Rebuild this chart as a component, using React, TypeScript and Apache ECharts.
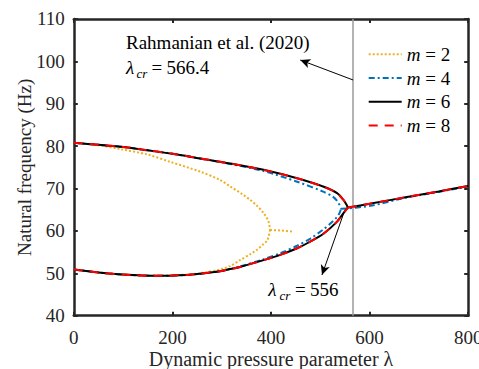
import React, { useEffect, useRef } from "react";
import * as echarts from "echarts";

// ---- data (lambda, natural frequency in Hz) ----
const xTicks = [0, 200, 400, 600, 800];
const yTicks = [40, 50, 60, 70, 80, 90, 100, 110];

// m = 6 (solid black)
const m6Upper: number[][] = [
  [0, 80.8], [50, 80.3], [100, 79.8], [150, 79.0], [200, 78.2], [256, 77.1],
  [317, 75.9], [385, 74.4], [453, 72.4], [507, 70.4], [534, 68.9], [547, 67.3],
  [553, 66.2], [556, 65.5],
];
const m6Lower: number[][] = [
  [0, 50.9], [50, 50.2], [100, 49.7], [168, 49.4], [229, 49.6], [256, 49.9],
  [297, 50.5], [317, 51.0], [337, 51.5], [385, 53.1], [420, 54.4], [453, 55.9],
  [480, 57.5], [507, 59.4], [534, 62.2], [547, 64.2], [556, 65.5],
];
const m6Post: number[][] = [
  [556, 65.5], [600, 66.4], [676, 68.0], [740, 69.3], [800, 70.6],
];

// m = 8 (red dashed) lies on top of m = 6
const m8Upper: number[][] = m6Upper;
const m8Lower: number[][] = m6Lower;
const m8Post: number[][] = m6Post;

// m = 4 (blue dash-dot)
const m4Upper: number[][] = [
  [0, 80.8], [50, 80.3], [100, 79.8], [150, 79.0], [200, 78.2], [256, 77.1],
  [317, 75.8], [385, 74.1], [453, 71.6], [507, 69.2], [525, 68.1], [534, 67.1],
  [539, 66.1], [542, 65.2],
];
const m4Lower: number[][] = [
  [0, 50.9], [50, 50.2], [100, 49.7], [168, 49.4], [229, 49.6], [256, 49.9],
  [297, 50.5], [317, 51.0], [337, 51.6], [385, 53.3], [420, 54.8], [453, 56.5],
  [480, 58.2], [507, 60.4], [525, 62.2], [534, 63.3], [539, 64.2], [542, 65.2],
];
const m4Post: number[][] = [
  [542, 65.2], [601, 65.9], [676, 67.9], [740, 69.2], [800, 70.5],
];

// m = 2 (orange dotted)
const m2Upper: number[][] = [
  [0, 80.8], [50, 80.2], [94, 79.3], [150, 78.0], [195, 76.3], [256, 74.0],
  [297, 72.0], [317, 70.5], [340, 68.8], [358, 67.3], [371, 66.0], [385, 64.2],
  [395, 62.2], [398, 60.2],
];
const m2Lower: number[][] = [
  [0, 50.9], [50, 50.2], [100, 49.7], [168, 49.4], [229, 49.7], [256, 50.0],
  [297, 50.9], [317, 51.7], [337, 53.1], [358, 54.5], [371, 55.5], [385, 56.9],
  [393, 57.9], [398, 60.2],
];
const m2Post: number[][] = [[398, 60.2], [420, 60.1], [446, 59.8]];

const lambdaRef = 566.4;
const arrowRef = [[566.4, 95.6], [459.3, 100.3]];
const arrowCr = [[550, 65.0], [503.4, 49.6]];

const FONT = "'Liberation Serif', 'Times New Roman', 'DejaVu Serif', serif";
const AXIS = "#262626";

export default function App() {
  const ref = useRef<HTMLDivElement>(null);
  useEffect(() => {
    if (!ref.current) return;
    const chart = echarts.init(ref.current, undefined, { renderer: "svg" });

    const mk = (name: string, data: number[][], color: string, type: any, z: number) => ({
      name,
      type: "line",
      data,
      showSymbol: false,
      symbol: "none",
      smooth: 0.3,
      z,
      lineStyle: { color, width: 2, type, cap: "butt" },
      itemStyle: { color },
    });

    const orange = "#EDB120";
    const blue = "#0072BD";
    const black = "#000000";
    const red = "#FF0000";
    const dot = [2, 2];
    const dashDot = [6, 3, 2, 3];
    const dash = [9, 7];

    const series: any[] = [
      mk("m = 2", m2Upper, orange, dot, 2),
      mk("m = 2", m2Lower, orange, dot, 2),
      mk("m = 2", m2Post, orange, dot, 2),
      mk("m = 4", m4Upper, blue, dashDot, 3),
      mk("m = 4", m4Lower, blue, dashDot, 3),
      mk("m = 4", m4Post, blue, dashDot, 3),
      mk("m = 6", m6Upper, black, "solid", 4),
      mk("m = 6", m6Lower, black, "solid", 4),
      mk("m = 6", m6Post, black, "solid", 4),
      mk("m = 8", m8Upper, red, dash, 5),
      mk("m = 8", m8Lower, red, dash, 5),
      mk("m = 8", m8Post, red, dash, 5),
      {
        name: "ref",
        type: "line",
        data: [],
        z: 1,
        markLine: {
          silent: true,
          symbol: ["none", "none"],
          label: { show: false },
          lineStyle: { color: "#9a9a9a", width: 1.5, type: "solid" },
          data: [{ xAxis: lambdaRef }],
        },
      },
      {
        name: "arrows",
        type: "line",
        data: [],
        z: 6,
        markLine: {
          silent: true,
          symbol: ["none", "arrow"],
          symbolSize: [7, 10],
          label: { show: false },
          lineStyle: { color: "#000", width: 1, type: "solid" },
          data: [
            [{ coord: arrowRef[0] }, { coord: arrowRef[1] }],
            [{ coord: arrowCr[0] }, { coord: arrowCr[1] }],
          ],
        },
      },
    ];

    const baseAxis = {
      type: "value",
      axisLine: { show: true, onZero: false, lineStyle: { color: AXIS, width: 2.5 } },
      axisTick: { show: true, inside: true, length: 4, lineStyle: { color: AXIS, width: 2 } },
      splitLine: { show: false },
    };

    const txt = (text: string, x: number, y: number, size = 19, italic = false) => ({
      type: "text",
      x,
      y,
      silent: true,
      style: {
        text,
        fill: "#000",
        fontFamily: FONT,
        fontSize: size,
        fontStyle: italic ? "italic" : "normal",
        verticalAlign: "middle",
        align: "left",
      },
    });

    chart.setOption({
      animation: false,
      backgroundColor: "#ffffff",
      textStyle: { fontFamily: FONT },
      grid: {
        left: 73.8,
        right: 10.8,
        top: 18.9,
        bottom: 53.3,
        containLabel: false,
        outerBoundsMode: "none",
      },
      xAxis: [
        {
          ...baseAxis,
          position: "bottom",
          min: xTicks[0],
          max: xTicks[xTicks.length - 1],
          interval: 200,
          axisLabel: { color: AXIS, fontFamily: FONT, fontSize: 19, margin: 12 },
          name: "Dynamic pressure parameter λ",
          nameLocation: "middle",
          nameGap: 33,
          nameMoveOverlap: false,
          nameTextStyle: { color: AXIS, fontFamily: FONT, fontSize: 20 },
        },
        {
          ...baseAxis,
          position: "top",
          min: xTicks[0],
          max: xTicks[xTicks.length - 1],
          interval: 200,
          axisLabel: { show: false },
        },
      ],
      yAxis: [
        {
          ...baseAxis,
          position: "left",
          min: yTicks[0],
          max: yTicks[yTicks.length - 1],
          interval: 10,
          axisLabel: { color: AXIS, fontFamily: FONT, fontSize: 19, margin: 9 },
          name: "Natural frequency (Hz)",
          nameLocation: "middle",
          nameGap: 40,
          nameMoveOverlap: false,
          nameRotate: 90,
          nameTextStyle: { color: AXIS, fontFamily: FONT, fontSize: 19 },
        },
        {
          ...baseAxis,
          position: "right",
          min: yTicks[0],
          max: yTicks[yTicks.length - 1],
          interval: 10,
          axisLabel: { show: false },
        },
      ],
      legend: {
        data: ["m = 2", "m = 4", "m = 6", "m = 8"],
        orient: "vertical",
        left: 367.7,
        top: 44.7,
        padding: 0,
        itemWidth: 33,
        itemHeight: 14,
        itemGap: 4.8,
        selectedMode: false,
        itemStyle: { opacity: 0 },
        formatter: (name: string) => "{i|m}" + name.substring(1),
        textStyle: {
          color: "#000",
          fontFamily: FONT,
          fontSize: 19,
          rich: { i: { fontStyle: "italic", fontFamily: FONT, fontSize: 19, color: "#000" } },
        },
      },
      graphic: [
        txt("Rahmanian et al. (2020)", 126, 42.5),
        txt("λ", 126, 67.5, 19, true),
        txt("cr", 136.5, 73.5, 13, true),
        txt("=", 151.5, 67.5),
        txt("566.4", 166.5, 67.5),
        txt("λ", 268.3, 289, 19, true),
        txt("cr", 279.5, 295, 13, true),
        txt("=", 295, 289),
        txt("556", 310, 289),
      ],
      series,
    });

    return () => chart.dispose();
  }, []);

  return (
    <div
      ref={ref}
      style={{ position: "fixed", left: 0, top: 0, width: 479, height: 369, background: "#fff" }}
    />
  );
}
